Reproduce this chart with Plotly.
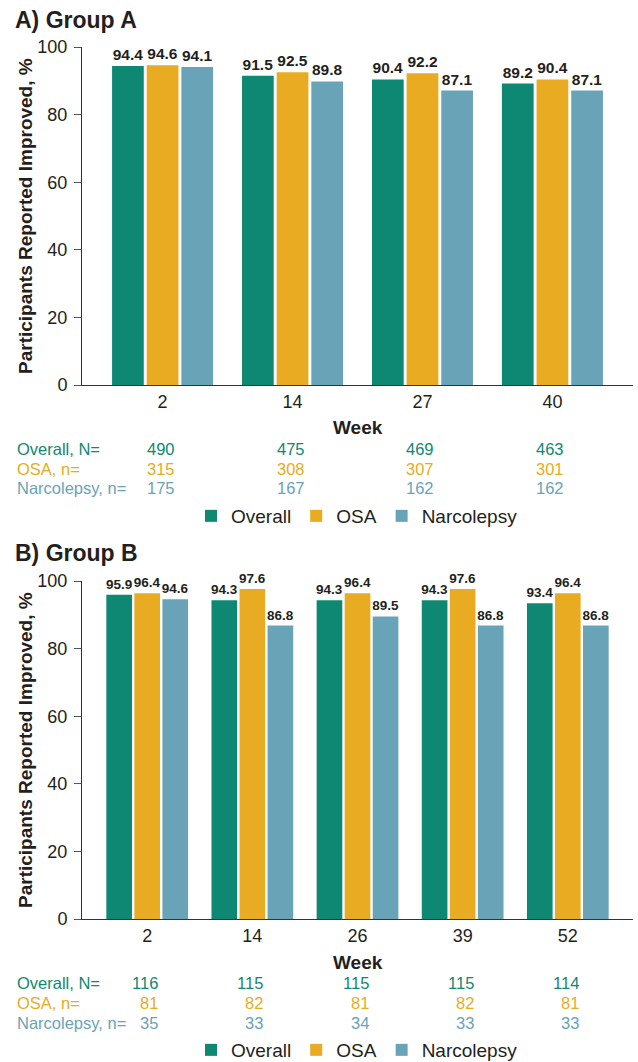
import plotly.graph_objects as go

# ---- data ----
weeks_a = ["2", "14", "27", "40"]
overall_a = [94.4, 91.5, 90.4, 89.2]
osa_a = [94.6, 92.5, 92.2, 90.4]
narc_a = [94.1, 89.8, 87.1, 87.1]
n_overall_a = [490, 475, 469, 463]
n_osa_a = [315, 308, 307, 301]
n_narc_a = [175, 167, 162, 162]

weeks_b = ["2", "14", "26", "39", "52"]
overall_b = [95.9, 94.3, 94.3, 94.3, 93.4]
osa_b = [96.4, 97.6, 96.4, 97.6, 96.4]
narc_b = [94.6, 86.8, 89.5, 86.8, 86.8]
n_overall_b = [116, 115, 115, 115, 114]
n_osa_b = [81, 82, 81, 82, 81]
n_narc_b = [35, 33, 34, 33, 33]

series_names = ["Overall", "OSA", "Narcolepsy"]
row_labels = ["Overall, N=", "OSA, n=", "Narcolepsy, n="]
colors = ["#0E8872", "#E9AB21", "#69A3B8"]

W, H = 638, 1062
FONT = "Liberation Sans, Arial, Helvetica, sans-serif"


def py(p):
    return 1 - p / H


fig = go.Figure()

panels = [
    dict(weeks=weeks_a, vals=[overall_a, osa_a, narc_a], ns=[n_overall_a, n_osa_a, n_narc_a],
         xa="x", ya="y", legend="legend", lab_size=15.5),
    dict(weeks=weeks_b, vals=[overall_b, osa_b, narc_b], ns=[n_overall_b, n_osa_b, n_narc_b],
         xa="x2", ya="y2", legend="legend2", lab_size=13.5),
]

for p in panels:
    for name, vals, col in zip(series_names, p["vals"], colors):
        fig.add_trace(go.Bar(
            x=p["weeks"], y=vals, name=name, marker=dict(color=col, line=dict(width=0)),
            text=[f"{v:.1f}" for v in vals], textposition="outside", cliponaxis=False,
            constraintext="none",
            textfont=dict(family=FONT, size=p["lab_size"], color="#231F20", weight="bold"),
            xaxis=p["xa"], yaxis=p["ya"], legend=p["legend"], hoverinfo="skip",
        ))

xdom = [82 / W, 633 / W]
axis_common = dict(showline=True, linecolor="#333333", linewidth=1, showgrid=False, zeroline=False,
                   automargin=False)

fig.update_layout(
    width=W, height=H,
    margin=dict(l=0, r=0, t=0, b=0, pad=0, autoexpand=False),
    paper_bgcolor="white", plot_bgcolor="white",
    barmode="group", bargap=0.2, bargroupgap=0.085,
    font=dict(family=FONT, color="#231F20"),
    xaxis=dict(domain=xdom, anchor="y", type="category", range=[-0.62, len(weeks_a) - 1 + 0.62],
               ticks="", tickfont=dict(size=18, color="#231F20"), **axis_common),
    yaxis=dict(domain=[py(385), py(47)], anchor="x", range=[0, 100], dtick=20,
               ticks="outside", ticklen=7, tickcolor="#555555", ticklabelstandoff=3,
               tickfont=dict(size=18, color="#231F20"), **axis_common),
    xaxis2=dict(domain=xdom, anchor="y2", type="category", range=[-0.62, len(weeks_b) - 1 + 0.62],
                ticks="", tickfont=dict(size=18, color="#231F20"), **axis_common),
    yaxis2=dict(domain=[py(919), py(581)], anchor="x2", range=[0, 100], dtick=20,
                ticks="outside", ticklen=7, tickcolor="#555555", ticklabelstandoff=3,
                tickfont=dict(size=18, color="#231F20"), **axis_common),
    legend=dict(orientation="h", x=357 / W, xanchor="center", y=py(516), yanchor="middle",
                font=dict(size=19, color="#231F20"), bgcolor="rgba(0,0,0,0)", traceorder="normal"),
    legend2=dict(orientation="h", x=357 / W, xanchor="center", y=py(1050), yanchor="middle",
                 font=dict(size=19, color="#231F20"), bgcolor="rgba(0,0,0,0)", traceorder="normal"),
    showlegend=True,
)

ann = []
# titles
ann.append(dict(text="<b>A) Group A</b>", x=13 / W, y=py(20), xref="paper", yref="paper",
                xanchor="left", yanchor="middle", showarrow=False, font=dict(size=23, color="#231F20")))
ann.append(dict(text="<b>B) Group B</b>", x=13 / W, y=py(553), xref="paper", yref="paper",
                xanchor="left", yanchor="middle", showarrow=False, font=dict(size=23, color="#231F20")))
# y-axis titles
for yc in [(47 + 385) / 2, (581 + 919) / 2]:
    ann.append(dict(text="<b>Participants Reported Improved, %</b>", x=25 / W, y=py(yc), xref="paper",
                    yref="paper", xanchor="center", yanchor="middle", textangle=-90, showarrow=False,
                    font=dict(size=19, color="#231F20")))
# x-axis titles
for yc in [427, 962]:
    ann.append(dict(text="<b>Week</b>", x=358 / W, y=py(yc), xref="paper", yref="paper",
                    xanchor="center", yanchor="middle", showarrow=False, font=dict(size=19, color="#231F20")))

# N tables
row_ys = [[449, 469, 488], [983, 1003, 1023]]
shifts = [14, 13]
for p, ys, sh in zip(panels, row_ys, shifts):
    for lab, ns, col, yy in zip(row_labels, p["ns"], colors, ys):
        ann.append(dict(text=lab, x=15 / W, y=py(yy), xref="paper", yref="paper", xanchor="left",
                        yanchor="middle", showarrow=False, font=dict(size=16.5, color=col)))
        for i, n in enumerate(ns):
            ann.append(dict(text=str(n), x=i, y=py(yy), xref=p["xa"], yref="paper", xanchor="right",
                            xshift=sh, yanchor="middle", showarrow=False,
                            font=dict(size=16.5, color=col)))

fig.update_layout(annotations=ann)
fig.write_html("out.html", config={"displayModeBar": False},
               post_script="document.body.style.margin='0';document.body.style.padding='0';"
                           "window.dispatchEvent(new Event('resize'));")
